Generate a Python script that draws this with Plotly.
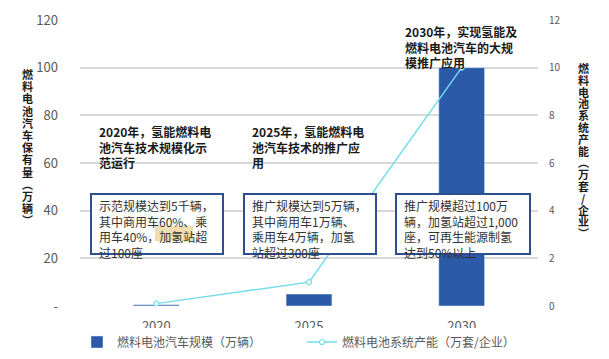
import plotly.graph_objects as go

years = ["2020", "2025", "2030"]
vehicles = [0.5, 5, 100]          # 万辆
capacity = [0.1, 1, 10]           # 万套/企业
left_ticks = [0, 20, 40, 60, 80, 100, 120]
left_ticktext = ["-", "20", "40", "60", "80", "100", "120"]
right_ticks = [0, 2, 4, 6, 8, 10, 12]

bar_name = "燃料电池汽车规模（万辆）"
line_name = "燃料电池系统产能（万套/企业）"
left_title = "燃料电池汽车保有量︵万辆︶"
right_title = "燃料电池系统产能︵万套/企业︶"

stage_titles = [
    "2020年，氢能燃料电<br>池汽车技术规模化示<br>范运行",
    "2025年，氢能燃料电<br>池汽车技术的推广应<br>用",
    "2030年，实现氢能及<br>燃料电池汽车的大规<br>模推广应用",
]
stage_boxes = [
    "示范规模达到5千辆，<br>其中商用车60%、乘<br>用车40%，加氢站超<br>过100座",
    "推广规模达到5万辆，<br>其中商用车1万辆、<br>乘用车4万辆，加氢<br>站超过300座",
    "推广规模超过100万<br>辆，加氢站超过1,000<br>座，可再生能源制氢<br>达到50%以上",
]

FONT = "Noto Sans CJK SC"
GRAY = "#595959"
BAR = "#2A5AA8"
LINE = "#72DDEB"
BOXC = "#2E4F8F"

# page has an 8px body margin, so the figure is 8px smaller than the window
W, H = 601, 351
ML, MR, MT, MB = 72, 71, 12, 53
# helper: screen pixel -> paper fraction (plot area spans x 80..538, y 20..306 on screen)
def px(x):
    return (x - 80) / 458


def py(y):
    return (306 - y) / 286


fig = go.Figure()
fig.add_trace(go.Bar(x=years, y=vehicles, name=bar_name, marker_color=BAR,
                     width=0.3, yaxis="y"))
fig.add_trace(go.Scatter(x=years, y=capacity, name=line_name, yaxis="y2",
                         mode="lines+markers",
                         line=dict(color=LINE, width=1.5),
                         marker=dict(symbol="circle", size=5, color="white",
                                     line=dict(color=LINE, width=1.2))))

annotations = []
title_pos = [(97, 121), (250, 121), (403, 21)]
for t, (x, y) in zip(stage_titles, title_pos):
    annotations.append(dict(xref="paper", yref="paper", x=px(x), y=py(y), xanchor="left",
                            yanchor="top", align="left", showarrow=False,
                            text="<b>" + t + "</b>",
                            font=dict(family=FONT, size=12, color="#1a1a1a")))

box_x = [(90, 224), (243, 377), (395, 531)]
box_top, box_bot = 193, 255
for (x0, x1), t in zip(box_x, stage_boxes):
    # white box with border
    annotations.append(dict(xref="paper", yref="paper", x=px(x0), y=py(box_top),
                            xanchor="left", yanchor="top", showarrow=False, text=" ",
                            width=x1 - x0 - 4, height=box_bot - box_top - 4,
                            bgcolor="white", bordercolor=BOXC, borderwidth=2, borderpad=0))
    if x0 == 90:
        # highlight behind "加氢站"
        annotations.append(dict(xref="paper", yref="paper", x=px(155), y=py(226),
                                xanchor="left", yanchor="top", showarrow=False, text=" ",
                                width=38, height=15, bgcolor="#F2DDAE",
                                borderwidth=0, borderpad=0))
    annotations.append(dict(xref="paper", yref="paper", x=px(x0 + 7), y=py(box_top + 2),
                            xanchor="left", yanchor="top", align="left",
                            showarrow=False, text=t,
                            font=dict(family=FONT, size=12, color="#333333")))

# vertical (stacked) axis titles
for i, ch in enumerate(left_title):
    annotations.append(dict(xref="paper", yref="paper", x=px(27), y=py(74 + i * 12.2),
                            xanchor="center", yanchor="middle", showarrow=False,
                            text="<b>" + ch + "</b>",
                            font=dict(family=FONT, size=11, color="#1a1a1a")))
for i, ch in enumerate(right_title):
    annotations.append(dict(xref="paper", yref="paper", x=px(583), y=py(68 + i * 11.8),
                            xanchor="center", yanchor="middle", showarrow=False,
                            text="<b>" + ch + "</b>",
                            font=dict(family=FONT, size=11, color="#1a1a1a")))

fig.update_layout(
    width=W, height=H,
    margin=dict(l=ML, r=MR, t=MT, b=MB, autoexpand=False),
    paper_bgcolor="white", plot_bgcolor="white",
    font=dict(family=FONT, color=GRAY),
    showlegend=True,
    legend=dict(orientation="h", x=px(77), xanchor="left", y=py(342), yanchor="middle",
                entrywidth=180, entrywidthmode="pixels",
                font=dict(family=FONT, size=12, color=GRAY)),
    xaxis=dict(type="category", range=[-0.5, 2.5], showgrid=False, showline=False,
               ticks="", tickfont=dict(size=13, color=GRAY), ticklabelstandoff=11),
    yaxis=dict(range=[0, 120], tickvals=left_ticks, ticktext=left_ticktext,
               showgrid=True, gridcolor="#D9D9D9", gridwidth=1.5, zeroline=False,
               showline=False, tickfont=dict(size=13, color=GRAY), ticklabelstandoff=21),
    yaxis2=dict(range=[0, 12], tickvals=right_ticks, overlaying="y", side="right",
                showgrid=False, zeroline=False, showline=False,
                tickfont=dict(size=10, color=GRAY), ticklabelstandoff=10),
    annotations=annotations,
)

fig.write_html("out.html")
